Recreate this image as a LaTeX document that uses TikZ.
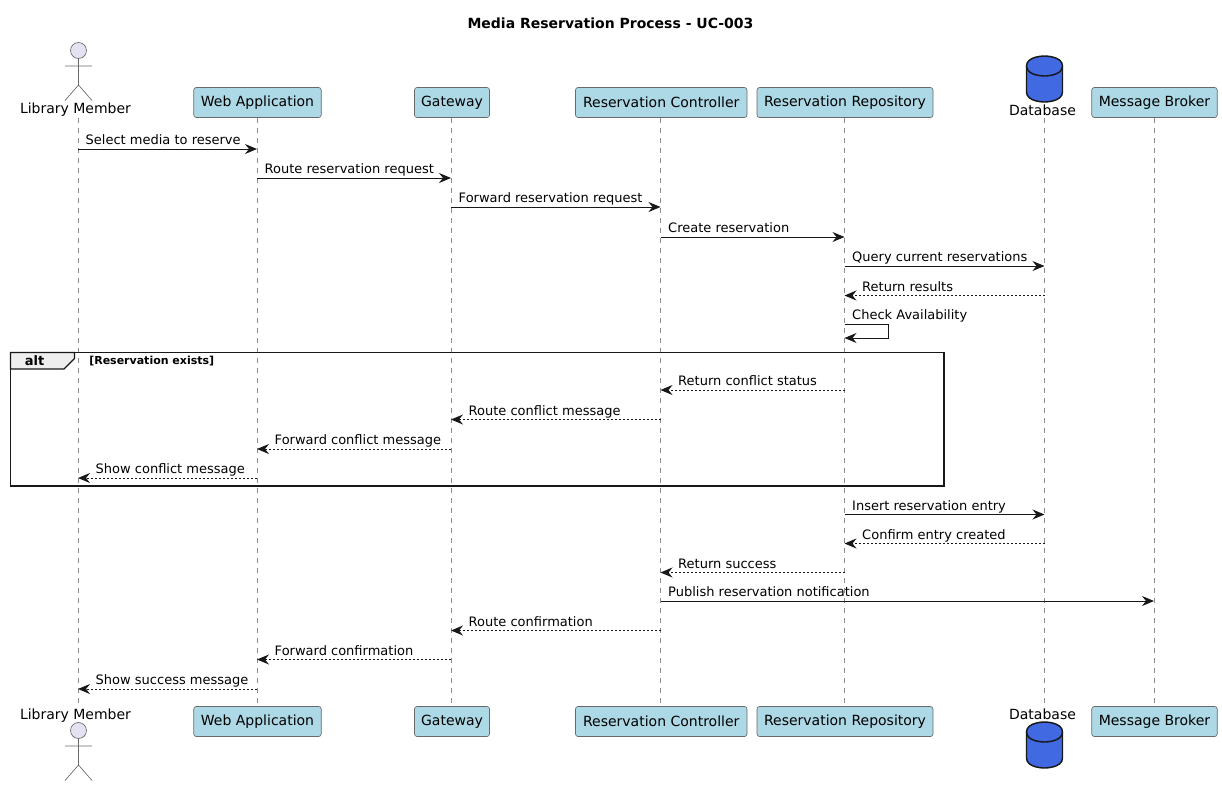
\documentclass[tikz,border=0pt]{standalone}
\usepackage{fontspec}
\setmainfont{DejaVu Sans}
\usepackage{xcolor}
\definecolor{umlink}{HTML}{181818}
\definecolor{umlbox}{HTML}{ADD8E6}
\definecolor{umlactor}{HTML}{E2E2F0}
\definecolor{umldb}{HTML}{4169E1}
\definecolor{umltab}{HTML}{EEEEEE}
\usetikzlibrary{arrows.meta,positioning}
\tikzset{
  partbox/.style={draw=umlink!65,fill=umlbox,line width=0.5pt,rounded corners=1.9pt,minimum height=22.5pt,inner sep=0pt,font=\fontsize{10.5}{12}\selectfont},
  partlabel/.style={inner sep=0pt,font=\fontsize{10.5}{12}\selectfont},
  lifeline/.style={draw=umlink!50,line width=0.45pt,dash pattern=on 3.75pt off 3.75pt},
  msg/.style={draw=umlink,line width=0.75pt,-{Stealth[length=9pt,width=7.5pt,inset=3pt]}},
  reply/.style={msg,dash pattern=on 1.5pt off 1.5pt},
  msglabel/.style={anchor=base west,inner sep=0pt,font=\fontsize{9.75}{12}\selectfont},
  actor/.pic={
    \draw[draw=umlink!65,fill=umlactor,line width=0.5pt] (0,0) circle [radius=8];
    \draw[draw=umlink!65,line width=0.5pt] (0,8)--(0,34.5) (-13.5,15.5)--(13.5,15.5) (-13.5,50)--(0,34.5)--(13.5,50);
  },
  dbicon/.pic={
    \draw[draw=umlink,fill=umldb,line width=1.1pt] (-18,10) .. controls (-18,0) and (0,0) .. (0,0) .. controls (0,0) and (18,0) .. (18,10) -- (18,36) .. controls (18,46) and (0,46) .. (0,46) .. controls (0,46) and (-18,46) .. (-18,36) -- cycle;
    \draw[draw=umlink,line width=1.1pt] (-18,10) .. controls (-18,20) and (0,20) .. (0,20) .. controls (0,20) and (18,20) .. (18,10);
  }
}
\begin{document}
\begin{tikzpicture}[x=0.75pt,y=-0.75pt]
  \useasboundingbox (0,0) rectangle (1222,786);
  \node[font=\bfseries\fontsize{10.5}{12}\selectfont,inner sep=0pt] (title) at (610.5,23) {Media Reservation Process - UC-003};
  % participants, head and foot
  \foreach \nm/\xx/\bw/\txt in {web/257.5/127.5/Web Application,gw/452/75/Gateway,ctl/661.25/171.5/Reservation Controller,repo/845/176/Reservation Repository,mb/1154.5/125.5/Message Broker} {
    \node[partbox,minimum width=\bw*0.75pt] (\nm T) at (\xx,102.5) {\txt};
    \node[partbox,minimum width=\bw*0.75pt] (\nm B) at (\xx,721.5) {\txt};
  }
  \pic at (78.5,50.5) {actor};
  \pic at (78.5,730.5) {actor};
  \pic at (1044.5,56) {dbicon};
  \pic at (1044.5,722) {dbicon};
  \node[partlabel] (lmlabelT) at (75.5,110) {Library Member};
  \node[partlabel] (lmlabelB) at (75.5,715.5) {Library Member};
  \node[partlabel] (dblabelT) at (1042.5,110) {Database};
  \node[partlabel] (dblabelB) at (1042.5,714) {Database};
  % lifelines
  \foreach \nm/\xx in {lm/78,web/257,gw/451,ctl/660.5,repo/844.5,db/1044.5,mb/1154} {
    \coordinate (\nm H) at (\xx,118);
    \coordinate (\nm F) at (\xx,706);
    \draw[lifeline] (\nm H) -- (\nm F);
  }
  % alt frame
  \draw[draw=umlink,fill=umltab,line width=0.9pt] (10.5,352.5) -- (74.5,352.5) -- (74.5,358.5) -- (64,369) -- (10.5,369) -- cycle;
  \draw[draw=umlink,line width=1.3pt] (10.5,352.5) rectangle (944,486);
  \node[font=\bfseries\fontsize{9.75}{12}\selectfont,inner sep=0pt] (altlabel) at (34.5,361) {alt};
  \node[font=\bfseries\fontsize{8.25}{10}\selectfont,inner sep=0pt,anchor=west] (altguard) at (89,361) {[Reservation exists]};
  % calls
  \foreach \i/\from/\to/\yy/\txt in {1/lm/web/149/Select media to reserve,2/web/gw/178/Route reservation request,3/gw/ctl/207/Forward reservation request,4/ctl/repo/237/Create reservation,5/repo/db/266/Query current reservations,6/repo/db/514.5/Insert reservation entry,7/ctl/mb/601/Publish reservation notification} {
    \coordinate (c\i a) at (\from H |- 0,\yy);
    \coordinate (c\i b) at (\to H |- 0,\yy);
    \draw[msg] (c\i a) -- (c\i b);
    \node[msglabel] (c\i t) at ([xshift=5.6pt,yshift=3.1pt]c\i a) {\txt};
  }
  % replies
  \foreach \i/\from/\to/\yy/\txt in {1/db/repo/295.5/Return results,2/repo/ctl/390/Return conflict status,3/ctl/gw/419.5/Route conflict message,4/gw/web/449/Forward conflict message,5/web/lm/478/Show conflict message,6/db/repo/543.5/Confirm entry created,7/repo/ctl/572.5/Return success,8/ctl/gw/630.5/Route confirmation,9/gw/web/659.5/Forward confirmation,10/web/lm/689/Show success message} {
    \coordinate (r\i a) at (\from H |- 0,\yy);
    \coordinate (r\i b) at (\to H |- 0,\yy);
    \draw[reply] (r\i a) -- (r\i b);
    \node[msglabel] (r\i t) at ([xshift=13.1pt,yshift=3.1pt]r\i b) {\txt};
  }
  % self call
  \coordinate (selfa) at (repoH |- 0,324);
  \coordinate (selfb) at (repoH |- 0,338);
  \draw[msg] (selfa) -- ++(43.5,0) |- (selfb);
  \node[msglabel] (selft) at ([xshift=5.6pt,yshift=3.1pt]selfa) {Check Availability};
\end{tikzpicture}
\end{document}
